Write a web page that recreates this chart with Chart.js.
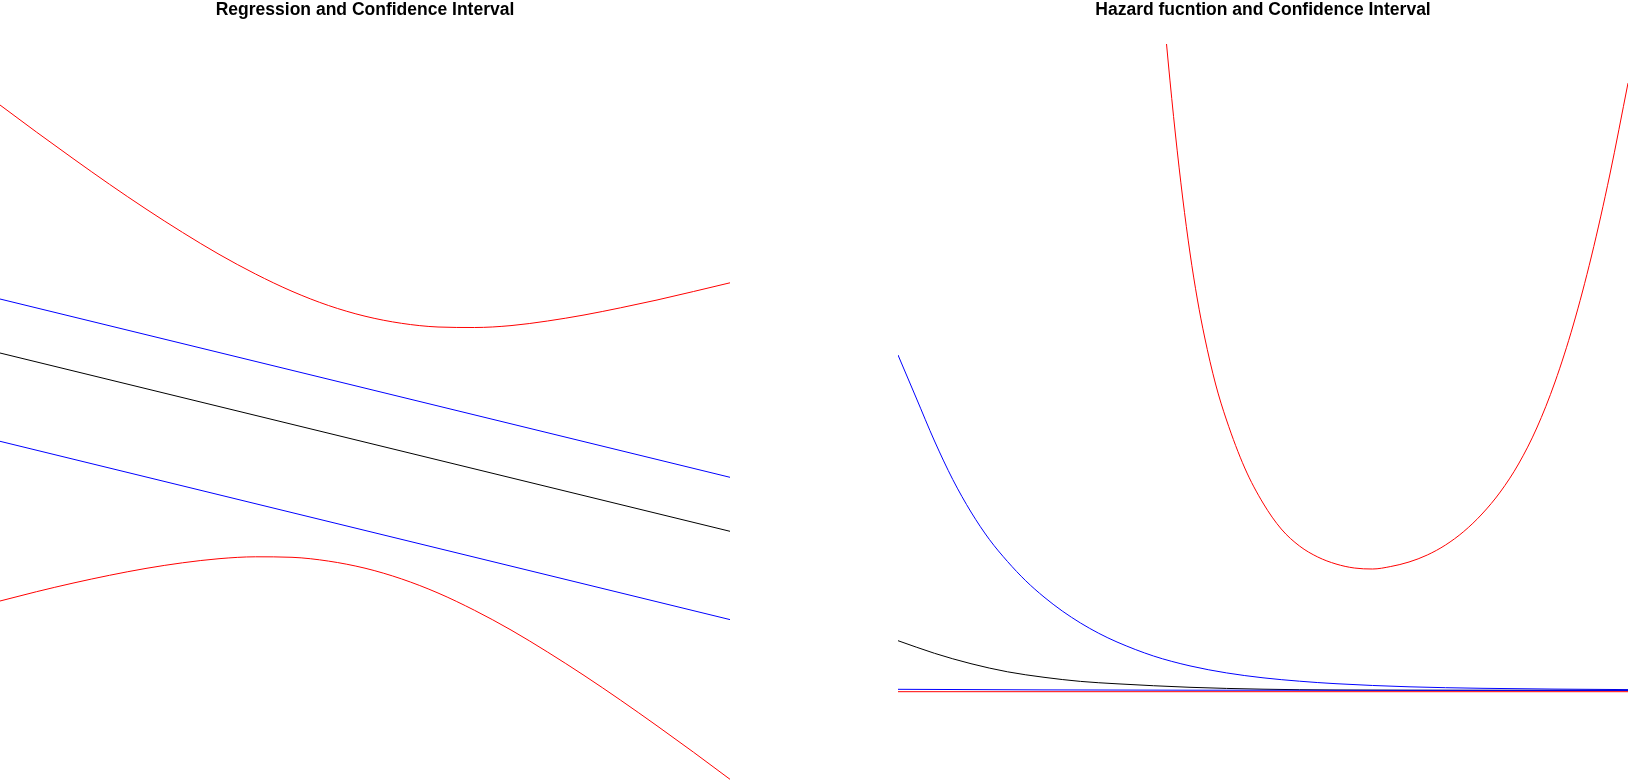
<!DOCTYPE html>
<html>
<head>
<meta charset="utf-8">
<title>Regression and Hazard function</title>
<script src="https://cdn.jsdelivr.net/npm/chart.js@4.4.1/dist/chart.umd.min.js"></script>
<style>
  html, body { margin: 0; padding: 0; background: #fff; }
  body { width: 1628px; height: 780px; position: relative; overflow: hidden; }
  .panel { position: absolute; top: 0; width: 730px; height: 780px; }
  #leftPanel { left: 0; }
  #rightPanel { left: 898px; }
</style>
</head>
<body>
<div class="panel" id="leftPanel"><canvas id="chartRegression" width="730" height="780"></canvas></div>
<div class="panel" id="rightPanel"><canvas id="chartHazard" width="730" height="780"></canvas></div>
<script>
// Left: regression line, its confidence band and prediction band
const regLineX = [0, 10];
const regFit = [0.892, -0.891];
const regCiUpper = [1.432, -0.351];
const regCiLower = [0.009, -1.774];

const regBandX = [0, 0.5, 1, 1.5, 2, 2.5, 3, 3.5, 4, 4.5, 5, 5.5, 6, 6.5, 7, 7.5, 8, 8.5, 9, 9.5, 10];
const regBandUpper = [3.372, 3.101, 2.837, 2.579, 2.332, 2.098, 1.879, 1.682, 1.509, 1.367, 1.26,
  1.189, 1.152, 1.147, 1.166, 1.212, 1.272, 1.344, 1.422, 1.507, 1.594];
const regBandLower = [-1.588, -1.495, -1.409, -1.331, -1.262, -1.206, -1.165, -1.146, -1.151, -1.189, -1.26,
  -1.367, -1.508, -1.681, -1.878, -2.098, -2.332, -2.579, -2.836, -3.1, -3.371];

// Right: hazard function with two sets of bounds
const hazFitX = [0, 0.5, 1, 1.5, 2, 2.5, 3, 4, 5, 6, 8, 10];
const hazFit = [0.498, 0.372, 0.268, 0.187, 0.132, 0.091, 0.067, 0.032, 0.013, 0.005, 0.002, 0.001];

const hazCiUpperX = [0, 0.25, 0.5, 0.75, 1, 1.25, 1.5, 1.75, 2, 2.25, 2.5, 2.75, 3, 3.5, 4, 4.5, 5, 5.5, 6, 7, 8, 9, 10];
const hazCiUpper = [3.355, 2.925, 2.495, 2.11, 1.785, 1.512, 1.29, 1.097, 0.935, 0.795, 0.675, 0.572,
  0.485, 0.345, 0.246, 0.176, 0.127, 0.093, 0.068, 0.037, 0.022, 0.014, 0.009];
const hazCiLowerX = [0, 2, 4, 10];
const hazCiLower = [0.012, 0.006, 0.003, 0.001];

const hazBandUpperX = [3.5, 3.6, 3.7, 3.8, 3.9, 4, 4.1, 4.2, 4.35, 4.5, 4.75, 5, 5.25, 5.5, 5.75, 6,
  6.25, 6.5, 6.75, 7, 7.25, 7.5, 7.75, 8, 8.25, 8.5, 8.75, 9, 9.25, 9.5, 9.75, 10];
const hazBandUpper = [8.025, 7.115, 6.295, 5.565, 4.925, 4.375, 3.915, 3.535, 3.065, 2.705, 2.225, 1.875,
  1.615, 1.445, 1.335, 1.265, 1.225, 1.215, 1.24, 1.285, 1.355, 1.455, 1.59, 1.765, 1.985, 2.265,
  2.625, 3.085, 3.655, 4.345, 5.155, 6.074];
const hazBandLowerX = [0, 10];
const hazBandLower = [-0.012, -0.012];

const RED = "#ff0000";
const BLUE = "#0000ff";
const BLACK = "#000000";

function points(xs, ys) {
  return xs.map((x, i) => ({ x, y: ys[i] }));
}

function series(xs, ys, color) {
  return {
    data: points(xs, ys),
    borderColor: color,
    borderWidth: 1,
    pointRadius: 0,
    showLine: true,
    fill: false,
    cubicInterpolationMode: "monotone",
  };
}

function panelConfig(title, datasets, yMin, yMax) {
  return {
    type: "scatter",
    data: { datasets },
    options: {
      responsive: false,
      animation: false,
      layout: { padding: 0 },
      plugins: {
        legend: { display: false },
        tooltip: { enabled: false },
        title: {
          display: true,
          text: title,
          color: "#000",
          font: { family: '"Liberation Sans", Arial, sans-serif', size: 17.5, weight: "bold", lineHeight: 1.2 },
          padding: { top: 0, bottom: 23 },
        },
      },
      scales: {
        x: { type: "linear", min: 0, max: 10, display: false },
        y: { type: "linear", min: yMin, max: yMax, display: false },
      },
    },
  };
}

new Chart(document.getElementById("chartRegression"), panelConfig(
  "Regression and Confidence Interval",
  [
    series(regLineX, regFit, BLACK),
    series(regLineX, regCiUpper, BLUE),
    series(regLineX, regCiLower, BLUE),
    series(regBandX, regBandUpper, RED),
    series(regBandX, regBandLower, RED),
  ],
  -3.378, 3.982
));

new Chart(document.getElementById("chartHazard"), panelConfig(
  "Hazard fucntion and Confidence Interval",
  [
    series(hazCiLowerX, hazCiLower, BLUE),
    series(hazFitX, hazFit, BLACK),
    series(hazCiUpperX, hazCiUpper, BLUE),
    series(hazBandUpperX, hazBandUpper, RED),
    series(hazBandLowerX, hazBandLower, RED),
  ],
  -0.895, 6.465
));
</script>
</body>
</html>
